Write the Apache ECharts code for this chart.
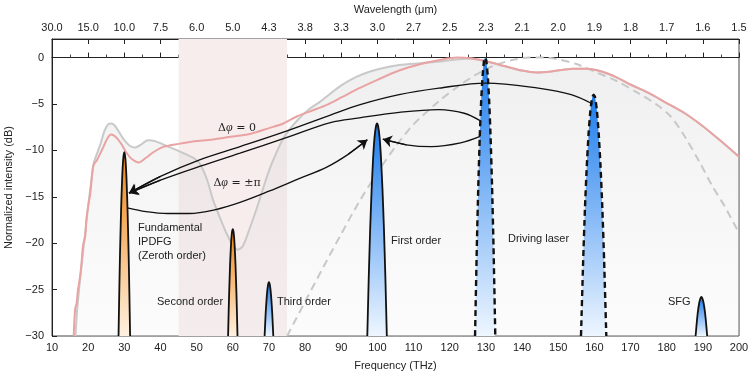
<!DOCTYPE html>
<html>
<head>
<meta charset="utf-8">
<script src="https://cdn.jsdelivr.net/npm/echarts@6/dist/echarts.min.js"></script>
<style>
  html, body { margin: 0; padding: 0; background: #fff; }
  #main { width: 755px; height: 376px; }
</style>
</head>
<body>
<div id="main"></div>
<script>
const chart = echarts.init(document.getElementById('main'))

// top axis: wavelength (um) at 10, 20 ... 200 THz
const wavelengthLabels = ['30.0','15.0','10.0','7.5','6.0','5.0','4.3','3.8','3.3','3.0','2.7','2.5','2.3','2.1','2.0','1.9','1.8','1.7','1.6','1.5']

// shaded band (THz)
const shadedBand = [45, 75]

// broad spectra [THz, dB]
const grayLine = [[16.5,-30],[17,-27],[18,-23],[19,-19.5],[20,-16],[20.8,-13.5],[21.5,-11.4],[22.5,-10.3],[23.5,-9.2],[24.5,-7.9],[25.5,-7.2],[26.5,-7.1],[27.5,-7.4],[28.5,-8.0],[30,-8.9],[31.5,-9.5],[33,-9.7],[34.5,-9.4],[36.5,-8.9],[38.5,-9.0],[41,-9.4],[44,-9.9],[47,-10.4],[49.5,-10.9],[51,-11.5],[53,-13.3],[54.5,-15.3],[56.5,-17.3],[58.2,-18.9],[60,-20.2],[61.4,-20.7],[62.8,-20.3],[64.6,-18.5],[66.5,-16.4],[68.3,-14.2],[70,-12.2],[72,-10.3],[74,-8.7],[75.6,-7.8],[78,-6.7],[81,-5.6],[84,-4.8],[86.6,-4.0],[90,-3.0],[94,-2.1],[98,-1.5],[102,-1.1],[106,-0.8],[112,-0.6],[118,-0.4],[122,-0.2],[126,-0.1],[130,-0.4],[135,-0.9],[140,-1.4],[144,-1.6],[148,-1.5],[154,-1.2],[158,-1.2],[162,-1.5],[166,-2.1],[170,-2.9],[175,-3.8],[180,-4.9],[185,-6.0],[190,-7.4],[195,-9.0],[200,-10.7]]
const pinkLine = [[16.0,-30],[16.4,-27.1],[16.8,-26.5],[17.2,-25],[17.8,-23.5],[18.2,-22],[18.6,-20.2],[19.2,-19.2],[19.5,-17.5],[20.0,-16],[20.6,-14.6],[21.0,-13],[21.5,-11.6],[22.5,-11],[24,-9.8],[25.2,-8.8],[26.3,-8.3],[27.5,-8.5],[29,-9.2],[30.5,-10.2],[32,-10.9],[34,-11.3],[36,-10.8],[38,-10.2],[41,-9.6],[45,-9.3],[50,-9.0],[55,-8.8],[60,-8.5],[65,-8.2],[70,-7.6],[74,-7.1],[78,-6.3],[82,-5.7],[86,-5.1],[90,-4.3],[95,-3.3],[100,-2.4],[106,-1.4],[112,-0.7],[118,-0.2],[122,0],[126,-0.1],[130,-0.4],[135,-0.9],[140,-1.4],[144,-1.6],[148,-1.5],[154,-1.2],[158,-1.2],[162,-1.5],[166,-2.1],[170,-2.9],[175,-3.8],[180,-4.9],[185,-6.0],[190,-7.4],[195,-9.0],[200,-10.7]]
const dashedLine = [[75,-30],[80,-26.3],[85,-22.6],[90,-19],[95,-15.5],[100,-12.4],[105,-9.6],[110,-7.2],[117,-4.7],[122,-3.2],[127,-1.9],[132,-0.9],[137,-0.3],[142,0],[146,0],[150,-0.2],[155,-0.7],[160,-1.5],[166,-2.5],[172,-3.8],[177,-5.0],[181,-6.3],[185,-8.5],[189,-11.2],[192.7,-13.9],[196,-16],[200,-18.9]]

// narrow peaks [THz, dB]
const peak30 = [[28.4,-30],[28.6,-25.4],[28.8,-21.3],[29.1,-16.5],[29.4,-13.0],[29.7,-10.9],[30,-10.2],[30.3,-10.9],[30.6,-13.0],[30.9,-16.5],[31.2,-21.3],[31.4,-25.4],[31.6,-30]]
const peak60 = [[58.7,-30],[58.85,-27.5],[59.0,-25.3],[59.25,-22.3],[59.5,-20.2],[59.75,-18.9],[60,-18.5],[60.25,-18.9],[60.5,-20.2],[60.75,-22.3],[61.0,-25.3],[61.15,-27.5],[61.3,-30]]
const peak70 = [[68.8,-30],[69.1,-27.5],[69.4,-25.7],[69.7,-24.6],[70,-24.2],[70.3,-24.6],[70.6,-25.7],[70.9,-27.5],[71.2,-30]]
const peak100 = [[97.2,-30],[97.6,-23.7],[98.0,-18.4],[98.4,-14.2],[98.8,-10.9],[99.2,-8.6],[99.6,-7.4],[99.9,-7.1],[100.2,-7.4],[100.6,-8.6],[101.0,-10.9],[101.4,-14.2],[101.8,-18.4],[102.2,-23.7],[102.6,-30]]
const peak130 = [[127.0,-30],[127.5,-20.2],[127.9,-13.8],[128.3,-8.6],[128.7,-4.6],[129.1,-1.9],[129.5,-0.3],[129.8,0],[130.1,-0.3],[130.5,-1.9],[130.9,-4.6],[131.3,-8.6],[131.7,-13.8],[132.1,-20.2],[132.6,-30]]
const peak160 = [[156.3,-30],[156.9,-21.9],[157.4,-16.2],[157.9,-11.7],[158.4,-8.2],[158.9,-5.7],[159.4,-4.3],[159.8,-4.0],[160.2,-4.3],[160.7,-5.7],[161.2,-8.2],[161.7,-11.7],[162.2,-16.2],[162.7,-21.9],[163.3,-30]]
const peak190 = [[188.0,-30],[188.4,-28.2],[188.8,-26.9],[189.2,-26.1],[189.6,-25.8],[190.0,-26.1],[190.4,-26.9],[190.8,-28.2],[191.2,-30]]

// arrows [THz, dB], last point = arrow tip
const arrowUpper = [[159.5,-5.0],[153.6,-4.0],[144.5,-3.3],[130,-2.75],[117,-3.3],[106,-4.0],[95,-5.1],[87,-6.2],[75,-7.9],[62,-9.6],[51,-11.0],[40,-12.8],[31.3,-14.6]]
const arrowLower = [[128.4,-6.8],[124,-6.0],[117,-5.6],[106,-5.9],[95,-6.5],[87,-7.0],[75,-8.6],[62,-10.3],[51,-11.7],[40,-13.2],[31.3,-14.6]]
const arrowLoop = [[128.4,-8.5],[123,-9.2],[115,-9.6],[108,-9.4],[101.5,-8.8]]
const arrowPi = [[30.8,-16.2],[36,-16.6],[42,-16.8],[48,-16.8],[55,-16.4],[62,-15.6],[70,-14.4],[78,-13.1],[86,-11.8],[92,-10.4],[97.2,-8.85]]

const orange = () => new echarts.graphic.LinearGradient(0, 0, 0, 1, [
  { offset: 0, color: '#ef8512' }, { offset: 1, color: '#fff1e0' }])
const blue = () => new echarts.graphic.LinearGradient(0, 0, 0, 1, [
  { offset: 0, color: '#1c7ced' }, { offset: 1, color: '#eef6ff' }])

function peakSeries(data, fill, dashed) {
  return {
    type: 'line', data: data, showSymbol: false, smooth: 0.2, z: 6, silent: true,
    lineStyle: { color: '#111', width: dashed ? 2.4 : 1.8, type: dashed ? [6, 4] : 'solid' },
    areaStyle: { origin: 'start', color: fill, opacity: 1 }
  }
}

function arrowSeries(data) {
  return {
    type: 'line', data: data, showSymbol: false, smooth: 0.35, z: 7, silent: true,
    lineStyle: { color: '#111', width: 1.3 }
  }
}

let arrowHeads = [arrowUpper, arrowLower, arrowLoop, arrowPi].map(a => ({
  coords: [a[a.length - 2], a[a.length - 1]]
}))

const textFont = '"Liberation Sans", Arial, sans-serif'
const txt = (x, y, s) => ({
  type: 'text', x: x, y: y, z: 100,
  style: { text: s, fill: '#222', fontSize: 11, fontFamily: textFont, align: 'left', verticalAlign: 'middle' }
})
const phi = (x, y, s) => ({
  type: 'text', x: x, y: y, z: 100,
  style: {
    text: s, fill: '#222', fontSize: 11, fontFamily: '"DejaVu Serif", serif',
    align: 'center', verticalAlign: 'middle',
    rich: { i: { fontStyle: 'italic', fontSize: 12, fontFamily: '"Liberation Serif", serif', fill: '#222' } }
  }
})

let option = {
  backgroundColor: '#fff',
  animation: false,
  grid: {
    left: 52, right: 16, top: 39, bottom: 40,
    outerBoundsMode: 'none', containLabel: false,
    show: true, borderColor: '#444', borderWidth: 1
  },
  xAxis: [
    {
      type: 'value', min: 10, max: 200, interval: 10, position: 'bottom',
      name: 'Frequency (THz)', nameLocation: 'middle', nameGap: 24,
      nameTextStyle: { color: '#222', fontSize: 11, fontFamily: textFont },
      axisLine: { lineStyle: { color: '#222' } },
      axisTick: { inside: true, length: 5, lineStyle: { color: '#222' } },
      minorTick: { show: true, splitNumber: 2, length: 3, lineStyle: { color: '#444' } },
      splitLine: { show: false },
      axisLabel: { color: '#222', fontSize: 11, fontFamily: textFont, margin: 6 }
    },
    {
      type: 'value', min: 10, max: 200, interval: 10, position: 'top',
      name: 'Wavelength (μm)', nameLocation: 'middle', nameGap: 24,
      nameTextStyle: { color: '#222', fontSize: 11, fontFamily: textFont },
      axisLine: { lineStyle: { color: '#222' } },
      axisTick: { inside: true, length: 5, lineStyle: { color: '#222' } },
      minorTick: { show: false },
      splitLine: { show: false },
      axisLabel: {
        color: '#222', fontSize: 11, fontFamily: textFont, margin: 6,
        formatter: v => wavelengthLabels[Math.round((v - 10) / 10)]
      }
    }
  ],
  yAxis: {
    type: 'value', min: -30, max: 2, interval: 5,
    name: 'Normalized intensity (dB)', nameLocation: 'middle', nameGap: 34,
    nameTextStyle: { color: '#222', fontSize: 11, fontFamily: textFont },
    axisLine: { lineStyle: { color: '#222' } },
    axisTick: { inside: true, length: 5, lineStyle: { color: '#222' } },
    splitLine: { show: false },
    axisLabel: {
      color: '#222', fontSize: 11, fontFamily: textFont, margin: 8, showMaxLabel: false,
      formatter: v => String(v).replace('-', '\u2212')
    }
  },
  series: [
    {
      type: 'line', data: [], z: 1, silent: true,
      markArea: {
        silent: true,
        itemStyle: { color: '#f7eded' },
        data: [[{ xAxis: shadedBand[0] }, { xAxis: shadedBand[1] }]]
      }
    },
    {
      type: 'line', data: grayLine, showSymbol: false, smooth: 0.3, z: 2, silent: true,
      lineStyle: { color: '#c9c9c9', width: 2 },
      areaStyle: {
        origin: 'start',
        color: new echarts.graphic.LinearGradient(0, 0, 0, 1, [
          { offset: 0, color: 'rgba(200,200,200,0.42)' },
          { offset: 1, color: 'rgba(235,235,235,0.25)' }])
      }
    },
    {
      type: 'line', data: dashedLine, showSymbol: false, smooth: 0.3, z: 3, silent: true,
      lineStyle: { color: '#c8c8c8', width: 2, type: [8, 5] }
    },
    {
      type: 'line', data: pinkLine, showSymbol: false, smooth: 0.3, z: 4, silent: true,
      lineStyle: { color: '#e9a3a3', width: 2 }
    },
    peakSeries(peak30, orange()),
    peakSeries(peak60, orange()),
    peakSeries(peak70, blue()),
    peakSeries(peak100, blue()),
    peakSeries(peak130, blue(), true),
    peakSeries(peak160, blue(), true),
    peakSeries(peak190, blue()),
    arrowSeries(arrowUpper),
    arrowSeries(arrowLower),
    arrowSeries(arrowLoop),
    arrowSeries(arrowPi),
    {
      type: 'lines', coordinateSystem: 'cartesian2d', z: 8, silent: true,
      symbol: ['none', 'arrow'], symbolSize: 9,
      lineStyle: { color: '#111', width: 1.3, opacity: 1 },
      data: arrowHeads
    }
  ],
  graphic: [
    txt(138, 228, 'Fundamental'),
    txt(138, 242, 'IPDFG'),
    txt(138, 256, '(Zeroth order)'),
    txt(157, 302, 'Second order'),
    txt(277, 302, 'Third order'),
    txt(391, 241, 'First order'),
    txt(508, 239, 'Driving laser'),
    txt(668, 302, 'SFG'),
    phi(237, 128, 'Δ{i|φ} = 0'),
    phi(237, 183, 'Δ{i|φ} = ±π')
  ]
}
chart.setOption(option)
</script>
</body>
</html>
